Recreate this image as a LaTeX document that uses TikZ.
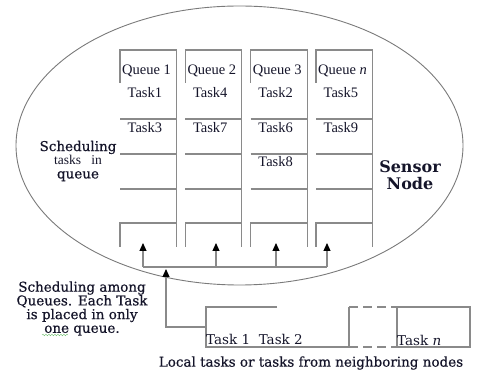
\documentclass[tikz,border=0pt]{standalone}
\usepackage{fontspec}
\setmainfont{Liberation Serif}
\newfontfamily\labelfont{DejaVu Serif}
\newfontfamily\heavyfont[FakeBold=0.6]{DejaVu Serif}
\usetikzlibrary{arrows.meta,positioning,calc,shapes.geometric,decorations.pathmorphing}
\definecolor{NodeInk}{HTML}{15152A}
\definecolor{NodeLine}{HTML}{8A8A8A}
\definecolor{NodeRim}{HTML}{7A7A7A}
\definecolor{NodeSpell}{HTML}{6DBE6D}

\tikzset{
  qline/.style={NodeLine,line width=1.1pt},
  qlabel/.style={text=NodeInk,font=\fontsize{14.5}{16}\selectfont,inner sep=0pt,anchor=west},
  caption/.style={text=NodeInk,font=\labelfont\fontsize{13.5}{13.7}\selectfont,inner sep=0pt,align=center},
  heavy/.style={caption,font=\heavyfont\fontsize{13.5}{13.7}\selectfont},
  feed/.style={qline,-{Triangle[length=8pt,width=7pt,color=black]}},
}

\begin{document}
\begin{tikzpicture}[x=1pt,y=-1pt]
\useasboundingbox (0,0) rectangle (477,371);
% sensor node outline
\node[draw=NodeRim,line width=0.9pt,ellipse,minimum width=447pt,minimum height=279pt,inner sep=0pt,outer sep=0pt] (sensor) at (239.5,145.5) {};
% the four queues
\foreach \i/\x/\n in {1/120/1,2/185.3/2,3/250.7/3,4/316/\textit{n}}{
  \node[minimum width=56.5pt,minimum height=197pt,inner sep=0pt,outer sep=0pt,anchor=north west] (q\i) at (\x,50) {};
  \draw[qline] ($(q\i.north west)+(0,33)$) -- (q\i.north west) -- (q\i.north east) -- (q\i.south east);
  \foreach \y in {69,104,139}
    \draw[qline] ($(q\i.north west)+(0,\y)$) -- ($(q\i.north east)+(0,\y)$);
  \draw[qline] (q\i.south west) -- ($(q\i.south west)+(0,-24)$) -- ($(q\i.south east)+(0,-24)$);
  \node[qlabel] (head\i) at ($(q\i.north west)+(2,21)$) {Queue \n};
}
% queued tasks
\node[qlabel] (task1) at ($(q1.north west)+(7.5,43)$) {Task1};
\node[qlabel] (task3) at ($(q1.north west)+(7.5,78)$) {Task3};
\node[qlabel] (task4) at ($(q2.north west)+(7.5,43)$) {Task4};
\node[qlabel] (task7) at ($(q2.north west)+(7.5,78)$) {Task7};
\node[qlabel] (task2) at ($(q3.north west)+(7.5,43)$) {Task2};
\node[qlabel] (task6) at ($(q3.north west)+(7.5,78)$) {Task6};
\node[qlabel] (task8) at ($(q3.north west)+(7.5,112)$) {Task8};
\node[qlabel] (task5) at ($(q4.north west)+(7.5,43)$) {Task5};
\node[qlabel] (task9) at ($(q4.north west)+(7.5,78)$) {Task9};

\node[heavy] (inqueue) at (78,161) {Scheduling\\{\rmfamily\fontsize{13.5}{14}\selectfont tasks\ \ \ in}\\queue};
\node[caption,font=\labelfont\bfseries\fontsize{16}{17}\selectfont] (sensorname) at (410,175.5) {Sensor\\Node};

% distribution to the queues
\foreach \k/\x in {1/143,2/216,3/276,4/327}{
  \coordinate (in\k) at (\x,267);
  \coordinate (tip\k) at (\x,243);
  \draw[feed] (in\k) -- (tip\k);
}
\draw[qline] (in1) -- (in4);
\coordinate (merge) at (166,269);

% incoming task strip
\node[minimum width=264pt,minimum height=40pt,inner sep=0pt,outer sep=0pt] (strip) at (338,327) {};
\draw[qline] ($(strip.north west)+(71,0)$) -- (strip.north west) -- (strip.south west) -- ($(strip.south west)+(143,0)$) -- ($(strip.north west)+(143,0)$);
\draw[qline,dash pattern=on 9pt off 5pt] ($(strip.north west)+(143,0)$) -- ($(strip.north west)+(191,0)$);
\draw[qline,dash pattern=on 9pt off 5pt] ($(strip.south west)+(143,0)$) -- ($(strip.south west)+(191,0)$);
\draw[qline] ($(strip.south west)+(191,0)$) -- ($(strip.north west)+(191,0)$) -- (strip.north east) -- (strip.south east) -- ($(strip.south west)+(191,0)$);
\draw[feed] (strip.west) -| (merge);

\node[caption,anchor=west] (first) at ($(strip.west)+(0,12)$) {Task 1\ \ Task 2};
\node[caption,anchor=west] (last) at ($(strip.west)+(191,13)$) {Task \textit{n}};
\node[heavy] (source) at (311,363) {Local tasks or tasks from neighboring nodes};

\node[heavy] (among) at (82,308.5) {Scheduling among\\Queues. Each Task\\is placed in only\\one queue.};
\draw[NodeSpell,decorate,decoration={snake,amplitude=0.8pt,segment length=3pt}] (42,335) -- (68,335);
\end{tikzpicture}
\end{document}
